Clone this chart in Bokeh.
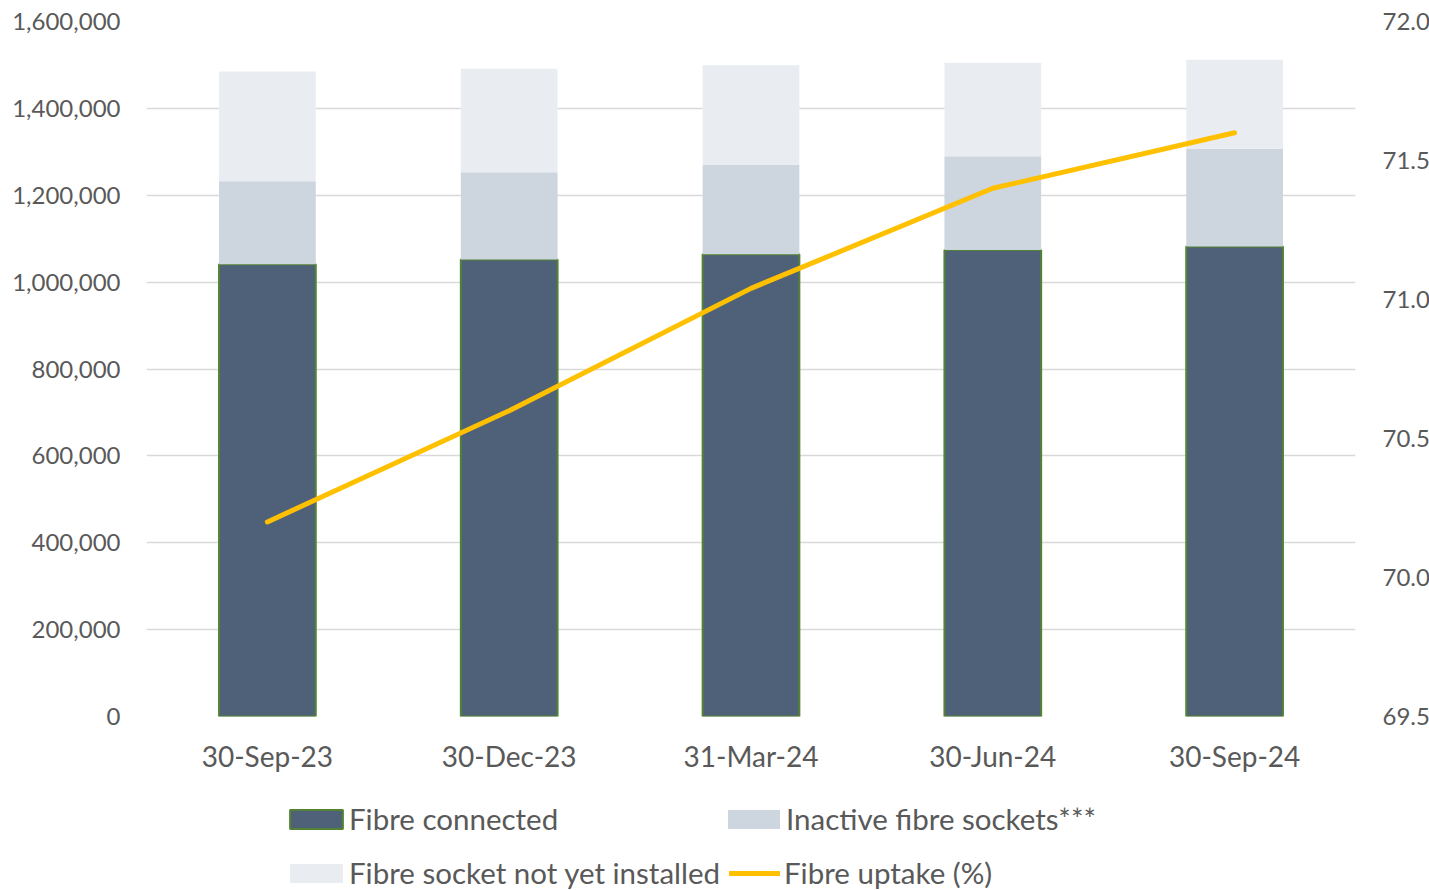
from bokeh.plotting import figure
from bokeh.layouts import column
from bokeh.models import (ColumnDataSource, FactorRange, Range1d, LinearAxis,
                          SingleIntervalTicker, NumeralTickFormatter, Legend, LegendItem)
from bokeh.embed import file_html
from bokeh.resources import INLINE

# Quarter-end dates
dates = ["30-Sep-23", "30-Dec-23", "31-Mar-24", "30-Jun-24", "30-Sep-24"]

# Premises counts per stack segment
fibre_connected = [1041000, 1052000, 1064000, 1074000, 1082000]
inactive_sockets = [191000, 201000, 207000, 216000, 225000]
not_installed = [253000, 238000, 228000, 215000, 205000]

# Fibre uptake (%), right axis
uptake = [70.2, 70.6, 71.04, 71.4, 71.6]

FONT = "Lato"
TEXT_COLOR = "#595959"
GRID_COLOR = "#d9d9d9"

CONN_FILL, CONN_LINE = "#4e6179", "#548235"
INACT_FILL = "#cdd5df"
NOTIN_FILL = "#e9edf2"
LINE_COLOR = "#ffc000"

c_top = fibre_connected
i_top = [a + b for a, b in zip(fibre_connected, inactive_sockets)]
n_top = [a + b for a, b in zip(i_top, not_installed)]

src = ColumnDataSource(dict(
    date=dates,
    zero=[0] * len(dates),
    c_top=c_top,
    i_top=i_top,
    n_top=n_top,
    uptake=uptake,
))


def draw_series(fig, y_range_name="default"):
    """Stacked bars plus the uptake line; returns the four renderers."""
    r1 = fig.vbar(x="date", bottom="zero", top="c_top", width=0.4, source=src,
                  fill_color=CONN_FILL, line_color=CONN_LINE, line_width=2)
    r2 = fig.vbar(x="date", bottom="c_top", top="i_top", width=0.4, source=src,
                  fill_color=INACT_FILL, line_color=None)
    r3 = fig.vbar(x="date", bottom="i_top", top="n_top", width=0.4, source=src,
                  fill_color=NOTIN_FILL, line_color=None)
    r4 = fig.line(x="date", y="uptake", source=src, y_range_name=y_range_name,
                  line_color=LINE_COLOR, line_width=5, line_cap="round",
                  line_join="round")
    return r1, r2, r3, r4


p = figure(
    frame_width=1209, frame_height=695,
    x_range=FactorRange(*dates, range_padding=0.0),
    y_range=Range1d(0, 1600000),
    output_backend="svg", toolbar_location=None,
    min_border_left=146, min_border_right=74,
    min_border_top=21, min_border_bottom=74,
)
p.outline_line_color = None
p.background_fill_color = "white"
p.border_fill_color = "white"
p.extra_y_ranges = {"pct": Range1d(69.5, 72.0)}

draw_series(p, "pct")

# left axis
ax = p.yaxis[0]
ax.ticker = SingleIntervalTicker(interval=200000)
ax.formatter = NumeralTickFormatter(format="0,0")

# right axis
rax = LinearAxis(y_range_name="pct", ticker=SingleIntervalTicker(interval=0.5),
                 formatter=NumeralTickFormatter(format="0.0"))
p.add_layout(rax, "right")

for a in [ax, rax, p.xaxis[0]]:
    a.axis_line_color = None
    a.major_tick_line_color = None
    a.minor_tick_line_color = None
    a.major_tick_out = 0
    a.major_tick_in = 0
    a.minor_tick_out = 0
    a.major_label_text_font = FONT
    a.major_label_text_font_size = "24px"
    a.major_label_text_color = TEXT_COLOR
ax.major_label_standoff = 26
rax.major_label_standoff = 27
p.xaxis[0].major_label_standoff = 22
p.xaxis[0].major_label_text_font_size = "28px"

p.xgrid.grid_line_color = None
p.ygrid.grid_line_color = GRID_COLOR
p.ygrid.grid_line_width = 1.5
p.ygrid.ticker = SingleIntervalTicker(interval=200000)

# legend strip below the chart; its copies of the series are hidden,
# so only the legend swatches show
lf = figure(width=1429, height=100,
            x_range=FactorRange(*dates, range_padding=0.0),
            y_range=Range1d(0, 1600000),
            output_backend="svg", toolbar_location=None,
            min_border=0, outline_line_color=None)
lf.extra_y_ranges = {"pct": Range1d(69.5, 72.0)}
lf.axis.visible = False
lf.grid.visible = False
lf.background_fill_color = "white"
g_conn, g_inact, g_notin, g_line = draw_series(lf, "pct")
for r in (g_conn, g_inact, g_notin, g_line):
    r.visible = False


def make_legend(item, loc, glyph_width, glyph_height, standoff):
    return Legend(items=[item], location=loc, orientation="vertical",
                  glyph_width=glyph_width, glyph_height=glyph_height,
                  label_standoff=standoff, spacing=0, padding=0, margin=0,
                  label_text_font=FONT, label_text_font_size="29.5px",
                  label_text_color=TEXT_COLOR, label_height=34,
                  border_line_color=None, background_fill_alpha=0,
                  click_policy="none")


lf.add_layout(make_legend(LegendItem(label="Fibre connected", renderers=[g_conn]),
                          (137, 54), 66, 24, 0), "center")
lf.add_layout(make_legend(LegendItem(label="Fibre socket not yet installed",
                                     renderers=[g_notin]),
                          (137, 0), 66, 24, 0), "center")
lf.add_layout(make_legend(LegendItem(label="Inactive fibre sockets***",
                                     renderers=[g_inact]),
                          (575, 54), 65, 24, 0), "center")
lf.add_layout(make_legend(LegendItem(label="Fibre uptake (%)", renderers=[g_line]),
                          (583, 0), 51, 24, 4), "center")

layout = column(p, lf, spacing=0)
open("out.html", "w").write(file_html(layout, INLINE))
